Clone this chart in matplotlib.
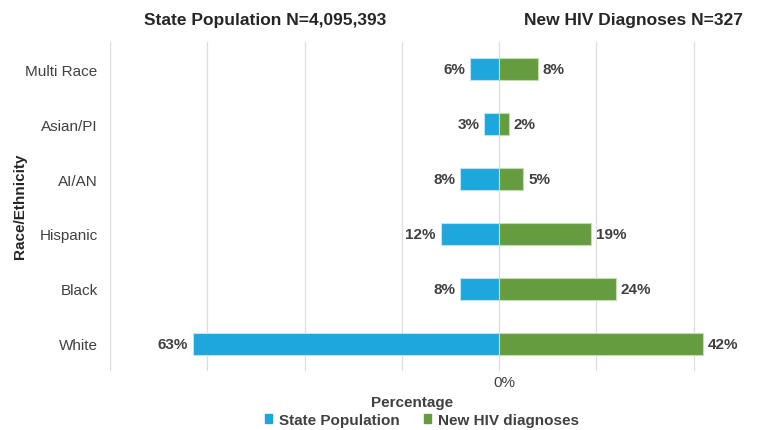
import matplotlib
matplotlib.use("Agg")
import matplotlib.pyplot as plt
from matplotlib.patches import Patch
from matplotlib.transforms import ScaledTranslation

categories = ["White", "Black", "Hispanic", "AI/AN", "Asian/PI", "Multi Race"]
state_population = [63, 8, 12, 8, 3, 6]
new_hiv = [42, 24, 19, 5, 2, 8]
grid_ticks = [-80, -60, -40, -20, 0, 20, 40]

BLUE = "#1EA7DD"
GREEN = "#659C3F"
TEXT = "#404040"

plt.rcParams["font.family"] = ["Liberation Sans", "DejaVu Sans"]

W, H = 777, 431
fig = plt.figure(figsize=(W / 100, H / 100), dpi=100)
left, right, top, bottom = 110, 714, 43, 372
ax = fig.add_axes([left / W, 1 - bottom / H, (right - left) / W, (bottom - top) / H])

y = list(range(len(categories)))
ax.barh(y, [-v for v in state_population], height=0.4, color=BLUE,
        edgecolor="#BFE3F3", linewidth=0.8, zorder=3)
ax.barh(y, new_hiv, height=0.4, color=GREEN,
        edgecolor="#C5DAB6", linewidth=0.8, zorder=3)

for yi, v in zip(y, state_population):
    ax.text(-v - 1.0, yi, f"{v}%", ha="right", va="center", fontsize=11,
            fontweight="bold", color=TEXT)
for yi, v in zip(y, new_hiv):
    ax.text(v + 1.0, yi, f"{v}%", ha="left", va="center", fontsize=11,
            fontweight="bold", color=TEXT)

ax.set_xlim(-80, 44.2)
ax.set_ylim(-0.5, len(categories) - 0.5)
ax.set_xticks(grid_ticks)
ax.set_xticklabels(["0%" if t == 0 else "" for t in grid_ticks])
ax.set_yticks(y)
ax.set_yticklabels(categories)
ax.tick_params(axis="both", length=0, colors=TEXT, labelsize=11)
ax.tick_params(axis="y", pad=9)
ax.tick_params(axis="x", pad=3)
# nudge the zero label slightly to the right
shift = ScaledTranslation(5 / 100, 0, fig.dpi_scale_trans)
for lbl in ax.get_xticklabels():
    lbl.set_transform(lbl.get_transform() + shift)
ax.grid(axis="x", color="#DDDDDD", linewidth=0.9, zorder=0)
for s in ax.spines.values():
    s.set_visible(False)

ax.set_xlabel("Percentage", fontsize=11, fontweight="bold", color=TEXT, labelpad=4)
fig.text(20 / W, 1 - 206 / H, "Race/Ethnicity", rotation=90, ha="center", va="center",
         fontsize=11, fontweight="bold", color="#262626")

fig.text(265 / W, 1 - 20 / H, "State Population N=4,095,393", ha="center", va="center",
         fontsize=12.5, fontweight="bold", color="#262626")
fig.text(633 / W, 1 - 20 / H, "New HIV Diagnoses N=327", ha="center", va="center",
         fontsize=12.5, fontweight="bold", color="#262626")

handles = [Patch(color=BLUE, label="State Population"), Patch(color=GREEN, label="New HIV diagnoses")]
leg = fig.legend(handles=handles, loc="center", bbox_to_anchor=(422 / W, 1 - 421 / H),
                 ncol=2, frameon=False, handlelength=0.45, handleheight=0.45, handletextpad=0.45,
                 columnspacing=1.6, prop={"weight": "bold", "size": 11})
for t in leg.get_texts():
    t.set_color(TEXT)

fig.savefig("out.png", dpi=100)
